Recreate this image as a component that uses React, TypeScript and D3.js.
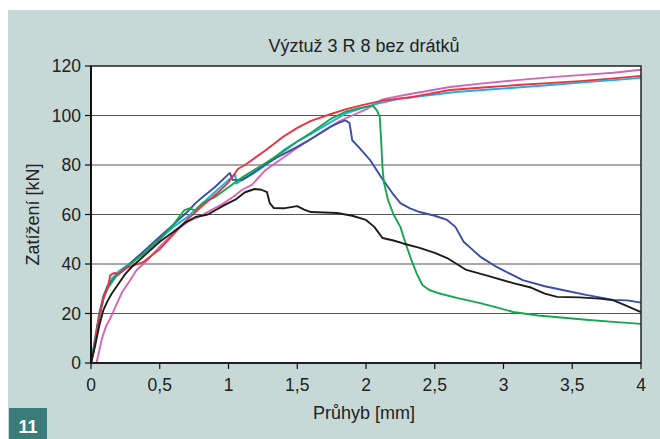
import React from "react";
import * as d3 from "d3";

const title = "Výztuž 3 R 8 bez drátků";
const xLabel = "Průhyb [mm]";
const yLabel = "Zatížení [kN]";
const badge = "11";
const xTicks = [0, 0.5, 1, 1.5, 2, 2.5, 3, 3.5, 4];
const yTicks = [0, 20, 40, 60, 80, 100, 120];
const fmtX = (v: number) => String(v).replace(".", ",");

const pink: [number, number][] = [[0.04,0],[0.06,5],[0.08,10],[0.11,15],[0.14,18],[0.18,23],[0.23,29],[0.28,33],[0.33,37.5],[0.4,41],[0.5,47],[0.61,53],[0.7,57],[0.8,59.5],[0.88,62],[0.95,64],[1.03,67],[1.1,70],[1.17,72],[1.27,78],[1.4,83],[1.5,87],[1.6,90.5],[1.7,94],[1.8,97.5],[1.9,100],[2.0,102.5],[2.12,106.5],[2.3,108.5],[2.61,111.5],[2.85,113],[3.1,114.3],[3.35,115.5],[3.58,116.4],[3.8,117.3],[4.0,118.5]];
const cyan: [number, number][] = [[0,0],[0.03,8],[0.06,18],[0.09,26],[0.12,31],[0.15,34],[0.2,37],[0.3,41],[0.4,45],[0.5,50],[0.6,55],[0.7,59],[0.8,64],[0.9,69],[1.0,74],[1.05,76],[1.055,72.5],[1.1,74],[1.18,76.5],[1.25,79.2],[1.4,86],[1.5,89.5],[1.61,92.9],[1.75,97.5],[1.86,101],[2.0,103.5],[2.1,105],[2.25,106.8],[2.47,108.3],[2.65,109.5],[2.85,110.3],[3.1,111.3],[3.34,112.3],[3.6,113.5],[3.8,114.3],[4.0,115.2]];
const blue: [number, number][] = [[0,0],[0.03,10],[0.06,20],[0.09,27],[0.12,31],[0.18,35],[0.25,38],[0.3,41],[0.4,46],[0.5,51],[0.6,56],[0.7,61],[0.76,64.6],[0.81,67],[0.9,71],[1.01,76.8],[1.03,74],[1.1,74],[1.25,79.5],[1.35,83],[1.5,87.3],[1.6,90.5],[1.74,95.4],[1.8,97],[1.85,98],[1.88,97],[1.9,90],[1.95,87],[2.03,82],[2.1,76],[2.14,72.7],[2.2,68],[2.25,64.6],[2.32,62.5],[2.39,61],[2.5,59.5],[2.59,57.8],[2.65,55],[2.71,49],[2.77,46],[2.83,43],[2.95,38.8],[3.05,36],[3.14,33.5],[3.3,31],[3.43,29.5],[3.6,27.5],[3.8,25.5],[3.9,25.3],[4.0,24.4]];
const green: [number, number][] = [[0,0],[0.03,9],[0.06,19],[0.09,26],[0.12,30],[0.18,35],[0.25,38.5],[0.3,40.5],[0.4,45],[0.5,50],[0.6,56],[0.68,61.8],[0.72,62.6],[0.76,61.5],[0.81,64.6],[0.9,67],[1.0,71],[1.1,75],[1.2,78.5],[1.27,80.8],[1.4,85.5],[1.5,89.5],[1.6,93],[1.74,98.5],[1.85,101.5],[1.95,103],[2.05,104],[2.08,102],[2.1,99.4],[2.11,90],[2.12,79],[2.13,73],[2.16,65.9],[2.2,60],[2.25,55],[2.29,48],[2.33,41.6],[2.37,36],[2.41,31.5],[2.46,29.5],[2.52,28.3],[2.66,26.3],[2.83,24.2],[2.95,22.5],[3.07,20.6],[3.25,19.2],[3.46,18.2],[3.6,17.5],[3.8,16.6],[4.0,15.8]];
const red: [number, number][] = [[0,0],[0.02,5],[0.05,15],[0.07,21.4],[0.1,28],[0.12,30],[0.14,35.5],[0.17,36.4],[0.2,36],[0.24,38],[0.28,38.8],[0.38,40.8],[0.5,46],[0.6,52],[0.7,58],[0.8,63],[0.92,68.7],[1.0,73],[1.07,78.5],[1.12,80],[1.27,86],[1.4,91.5],[1.5,95],[1.6,97.8],[1.74,100.5],[1.85,102.5],[1.98,104.3],[2.12,106],[2.34,107.5],[2.61,110.3],[2.85,111.3],[3.1,112.3],[3.35,113.2],[3.58,114],[3.8,115],[4.0,116]];
const black: [number, number][] = [[0,0],[0.03,7],[0.06,15],[0.09,21.4],[0.12,25],[0.15,28],[0.2,32],[0.25,36],[0.3,39],[0.4,44],[0.5,49],[0.6,53],[0.68,56.5],[0.76,59],[0.85,60],[0.97,63.8],[1.05,66],[1.12,69],[1.19,70.3],[1.24,70],[1.28,69],[1.3,64.6],[1.33,62.6],[1.4,62.5],[1.5,63.4],[1.55,62],[1.6,61],[1.79,60.6],[1.9,59.5],[2.0,57.8],[2.06,55],[2.12,50.5],[2.2,49.5],[2.27,48.3],[2.39,46.5],[2.5,44.5],[2.59,42.4],[2.66,40],[2.73,37.6],[2.9,35],[3.07,32.3],[3.2,30.5],[3.3,28],[3.39,26.7],[3.55,26.5],[3.7,26],[3.8,25.3],[3.9,23],[4.0,20.6]];

const series = [
  { name: "pink", data: pink, color: "#d466b4" },
  { name: "cyan", data: cyan, color: "#1cb0e4" },
  { name: "blue", data: blue, color: "#3a4ea6" },
  { name: "green", data: green, color: "#16a650" },
  { name: "red", data: red, color: "#ea3340" },
  { name: "black", data: black, color: "#1c1c1c" },
];

const W = 660, H = 439;
const L = 91, R = 641, T = 66, B = 363;
const FONT = "'Liberation Sans', Arial, sans-serif";

export default function App() {
  const x = d3.scaleLinear().domain([0, 4]).range([L, R]);
  const y = d3.scaleLinear().domain([0, 120]).range([B, T]);
  const line = d3.line<[number, number]>().x(d => x(d[0])).y(d => y(d[1]));
  return (
    <svg width={W} height={H} style={{ position: "absolute", left: 0, top: 0 }} fontFamily={FONT}>
      <rect x={0} y={0} width={W} height={H} fill="#ffffff" />
      <rect x={8} y={10} width={W - 8} height={H - 10} fill="#c6d9d7" />
      <rect x={L} y={T} width={R - L} height={B - T} fill="#ffffff" />
      {yTicks.filter(t => t > 0 && t < 120).map(t => (
        <line key={t} x1={L} x2={R} y1={y(t)} y2={y(t)} stroke="#555" strokeWidth={1.2} />
      ))}
      <g fill="none" strokeWidth={1.9} strokeLinejoin="round">
        {series.map(s => (
          <path key={s.name} d={line(s.data) || ""} stroke={s.color} />
        ))}
      </g>
      <rect x={L} y={T} width={R - L} height={B - T} fill="none" stroke="#222" strokeWidth={1.5} />
      <line x1={L} x2={L} y1={T} y2={B} stroke="#111" strokeWidth={2} />
      <line x1={L} x2={R} y1={B} y2={B} stroke="#111" strokeWidth={1.5} />
      {yTicks.map(t => (
        <g key={t}>
          <line x1={L - 6} x2={L} y1={y(t)} y2={y(t)} stroke="#111" strokeWidth={1.2} />
          <text x={L - 10} y={y(t)} dy="0.36em" textAnchor="end" fontSize={17.5} fill="#222">{t}</text>
        </g>
      ))}
      {xTicks.map(t => (
        <g key={t}>
          <line x1={x(t)} x2={x(t)} y1={B} y2={B + 6} stroke="#111" strokeWidth={1.2} />
          <text x={x(t)} y={B + 28} textAnchor="middle" fontSize={17.5} fill="#222">{fmtX(t)}</text>
        </g>
      ))}
      <text x={(L + R) / 2 - 2} y={52} textAnchor="middle" fontSize={18} fill="#222">{title}</text>
      <text x={(L + R) / 2 - 2} y={419} textAnchor="middle" fontSize={18} fill="#222">{xLabel}</text>
      <text transform={`translate(39,${(T + B) / 2}) rotate(-90)`} textAnchor="middle" fontSize={18} fill="#222">{yLabel}</text>
      <rect x={9} y={408} width={38} height={31} fill="#3a7c79" />
      <text x={28} y={433} textAnchor="middle" fontSize={18} fontWeight="bold" fill="#ffffff">{badge}</text>
    </svg>
  );
}
